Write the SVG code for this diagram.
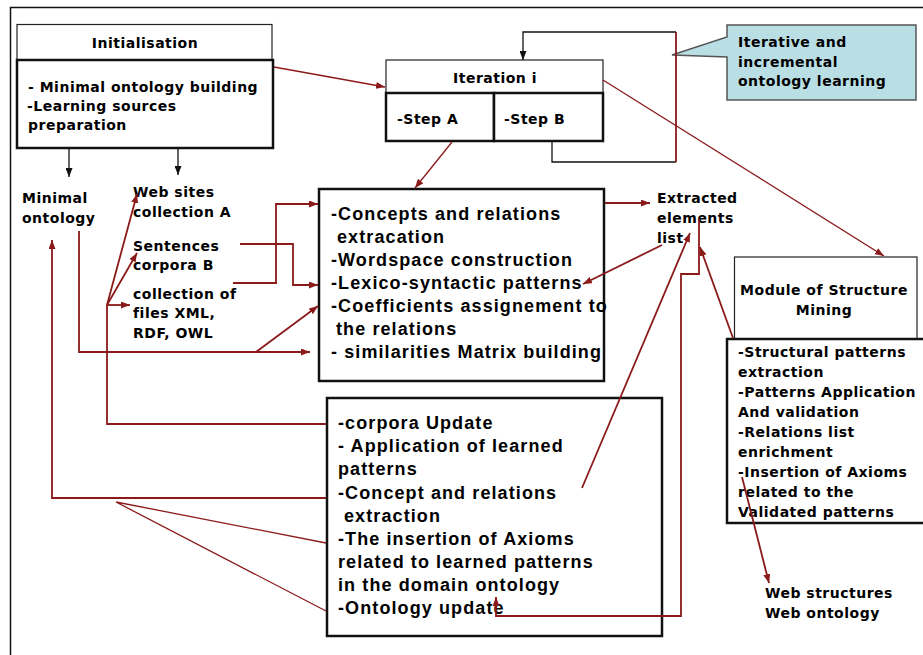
<svg xmlns="http://www.w3.org/2000/svg" width="923" height="655" viewBox="0 0 923 655">
<style>
.s{font-family:"DejaVu Sans",Verdana,sans-serif;font-weight:bold;font-size:14px;letter-spacing:0.5px;fill:#000}
.b{font-family:"Liberation Sans",Arial,sans-serif;font-weight:bold;font-size:18px;letter-spacing:1.1px;fill:#000}
.c{text-anchor:middle}
.hd{fill:#fff;stroke:#222;stroke-width:1.2}
.bx{fill:#fff;stroke:#111;stroke-width:2.5}
.r{fill:none;stroke:#8B1A1A;stroke-width:1.8}
.rt{fill:none;stroke:#8B1A1A;stroke-width:1.3}
.k{fill:none;stroke:#111;stroke-width:1.3}
</style>
<defs>
<marker id="ar" viewBox="0 0 9 7" refX="9" refY="3.5" markerWidth="9" markerHeight="7" markerUnits="userSpaceOnUse" orient="auto"><path d="M0,0 L9,3.5 L0,7 z" fill="#8B1A1A"/></marker>
<marker id="ak" viewBox="0 0 9 7" refX="9" refY="3.5" markerWidth="9" markerHeight="7" markerUnits="userSpaceOnUse" orient="auto"><path d="M0,0 L9,3.5 L0,7 z" fill="#111"/></marker>
</defs>
<rect width="923" height="655" fill="#fff"/>
<path d="M10.5,655 V7.5 H923" fill="none" stroke="#111" stroke-width="1.5"/>

<g id="initialisation">
<rect class="hd" x="17" y="24.5" width="255" height="35.5"/>
<text class="s c" x="145" y="48">Initialisation</text>
<rect class="bx" x="17" y="60" width="256" height="88"/>
<text class="s" x="28" y="92">- Minimal ontology building</text>
<text class="s" x="27" y="111">-Learning sources</text>
<text class="s" x="28" y="130">preparation</text>
</g>

<g id="minimal-ontology">
<text class="s" x="22" y="203">Minimal</text>
<text class="s" x="22" y="223">ontology</text>
</g>
<g id="web-sites">
<text class="s" x="133" y="197">Web sites</text>
<text class="s" x="133" y="217">collection A</text>
</g>
<g id="sentences">
<text class="s" x="133" y="251">Sentences</text>
<text class="s" x="133" y="270">corpora B</text>
</g>
<g id="files">
<text class="s" x="133" y="299">collection of</text>
<text class="s" x="133" y="318">files XML,</text>
<text class="s" x="133" y="338">RDF, OWL</text>
</g>

<g id="iteration">
<rect class="hd" x="386" y="60" width="217" height="33"/>
<text class="s c" x="495" y="83">Iteration i</text>
<rect class="bx" x="386" y="93" width="108" height="48"/>
<rect class="bx" x="494" y="93" width="109" height="48"/>
<text class="s" x="397" y="124">-Step A</text>
<text class="s" x="504" y="124">-Step B</text>
</g>

<g id="callout">
<path d="M727,25 H916 V100 H727 V57 L672,55 L727,37 Z" fill="#B9DFE5" stroke="#555" stroke-width="1.5"/>
<text class="s" x="738" y="47">Iterative and</text>
<text class="s" x="738" y="66.5">incremental</text>
<text class="s" x="738" y="86">ontology learning</text>
</g>

<g id="extraction-box">
<rect class="bx" x="319" y="189" width="285" height="192"/>
<text class="b" x="331" y="220">-Concepts and relations</text>
<text class="b" x="337" y="243">extracation</text>
<text class="b" x="331" y="266">-Wordspace construction</text>
<text class="b" x="331" y="289">-Lexico-syntactic patterns</text>
<text class="b" x="331" y="312">-Coefficients assignement to</text>
<text class="b" x="336" y="335">the relations</text>
<text class="b" x="331" y="358">- similarities Matrix building</text>
</g>

<g id="extracted-list">
<text class="s" x="657" y="203">Extracted</text>
<text class="s" x="657" y="223">elements</text>
<text class="s" x="657" y="243">list</text>
</g>

<g id="update-box">
<rect class="bx" x="327" y="398" width="335" height="238"/>
<text class="b" x="338" y="429">-corpora Update</text>
<text class="b" x="338" y="452">- Application of learned</text>
<text class="b" x="338" y="475">patterns</text>
<text class="b" x="338" y="499">-Concept and relations</text>
<text class="b" x="344" y="522">extraction</text>
<text class="b" x="338" y="545">-The insertion of Axioms</text>
<text class="b" x="338" y="568">related to learned patterns</text>
<text class="b" x="338" y="591">in the domain ontology</text>
<text class="b" x="338" y="614">-Ontology update</text>
</g>

<g id="structure-mining">
<rect class="hd" x="734.5" y="257" width="182.5" height="82"/>
<text class="s c" x="824" y="295">Module of Structure</text>
<text class="s c" x="824" y="315">Mining</text>
<rect class="bx" x="727" y="339" width="205" height="184"/>
<text class="s" x="738" y="357">-Structural patterns</text>
<text class="s" x="738" y="377">extraction</text>
<text class="s" x="738" y="397">-Patterns Application</text>
<text class="s" x="738" y="417">And validation</text>
<text class="s" x="738" y="437">-Relations list</text>
<text class="s" x="738" y="457">enrichment</text>
<text class="s" x="738" y="477">-Insertion of Axioms</text>
<text class="s" x="738" y="497">related to the</text>
<text class="s" x="738" y="517">Validated patterns</text>
</g>

<g id="web-structures">
<text class="s" x="765" y="598">Web structures</text>
<text class="s" x="765" y="618">Web ontology</text>
</g>

<g id="connectors">
<path class="k" d="M69,149 V177" marker-end="url(#ak)"/>
<path class="k" d="M178,149 V175" marker-end="url(#ak)"/>
<path class="k" d="M552,142 V162 H676"/>
<path class="r" d="M676,162 V32" stroke-width="1.3"/>
<path class="k" d="M676,32 H523 V60" marker-end="url(#ak)"/>
<path class="rt" d="M274,67 L385,87" marker-end="url(#ar)"/>
<path class="rt" d="M452,142 L415,188" marker-end="url(#ar)"/>
<path class="rt" d="M603,80 L884,256" marker-end="url(#ar)"/>
<path class="r" d="M605,203 H650" marker-end="url(#ar)"/>
<path class="r" d="M662,245 L583,284" marker-end="url(#ar)"/>
<path class="r" d="M582,488 L690,233" marker-end="url(#ar)"/>
<path class="r" d="M699,219 V274 H681 V616 H496 V597" marker-end="url(#ar)"/>
<path class="r" d="M733,338 L700,247" marker-end="url(#ar)"/>
<path class="r" d="M742,477 L769,583" marker-end="url(#ar)"/>
<path class="r" d="M326,424 H107 V305"/>
<path class="r" d="M107,305 L137,194" marker-end="url(#ar)"/>
<path class="r" d="M107,305 L137,253" marker-end="url(#ar)"/>
<path class="r" d="M107,305 H130" marker-end="url(#ar)"/>
<path class="r" d="M326,498 H52 V240" marker-end="url(#ar)"/>
<path class="rt" d="M326,543 L116,502 L326,611"/>
<path class="r" d="M79,231 V352 H310" marker-end="url(#ar)"/>
<path class="r" d="M256,352 L318,306" marker-end="url(#ar)"/>
<path class="r" d="M240,244 H293 V285 H318" marker-end="url(#ar)"/>
<path class="r" d="M233,283 H276 V204 H318" marker-end="url(#ar)"/>
</g>
</svg>
